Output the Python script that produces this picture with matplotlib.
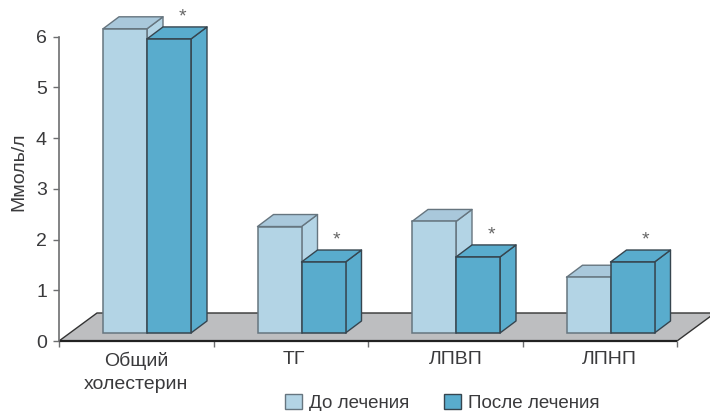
"""Липиды крови до и после лечения: псевдообъёмные столбцы на серой плоскости."""
import matplotlib
matplotlib.use("Agg")
import matplotlib.pyplot as plt  # noqa: E402
from matplotlib.patches import Patch, Polygon  # noqa: E402

plt.rcParams["font.family"] = ["Liberation Sans", "DejaVu Sans"]

CATEGORIES = ["Общий\nхолестерин", "ТГ", "ЛПВП", "ЛПНП"]
BEFORE = [6.0, 2.1, 2.2, 1.1]
AFTER = [5.8, 1.4, 1.5, 1.4]
SERIES_NAMES = ["До лечения", "После лечения"]
Y_TICKS = [0, 1, 2, 3, 4, 5, 6]

LIGHT = "#b3d4e5"
LIGHT_TOP = "#a9c8db"
LIGHT_EDGE = "#66757f"
DARK = "#59accd"
DARK_EDGE = "#36454f"
FLOOR = "#bdbec0"
INK = "#3a3a3c"
AXIS = "#6d6e70"

# пиксели на единицу осей: всё «объёмное» задано в пикселях холста
W, H = 710, 411
PX_X = 154.5
PX_Y = 50.7
LEFT, ZERO = 59, 341

BAR_W = 44 / PX_X
BAR_OFF = 44 / PX_X
LIFT = 8 / PX_Y
DX, DY = 16 / PX_X, 12 / PX_Y
FLOOR_DX, FLOOR_DY = 38 / PX_X, 28 / PX_Y
LABEL_SHIFT = [0, 3.5, 11, 10]

fig = plt.figure(figsize=(W / 100, H / 100), dpi=100)
ax = fig.add_axes([LEFT / W, 1 - ZERO / H, 4 * PX_X / W, 6 * PX_Y / H])
ax.set_xlim(0, 4)
ax.set_ylim(0, 6)

ax.add_patch(Polygon([(0, 0), (4, 0), (4 + FLOOR_DX, FLOOR_DY), (FLOOR_DX, FLOOR_DY)],
                     closed=True, facecolor=FLOOR, edgecolor="#333333", lw=1.0,
                     clip_on=False, zorder=1))
ax.plot([0, 4], [0, 0], color="#222222", lw=1.6, clip_on=False, zorder=2,
        solid_capstyle="butt")


def bar3d(x, value, face, top, edge, zorder):
    y = LIFT + value
    ax.add_patch(Polygon([(x + BAR_W, LIFT), (x + BAR_W + DX, LIFT + DY),
                          (x + BAR_W + DX, y + DY), (x + BAR_W, y)],
                         closed=True, facecolor=face, edgecolor=edge, lw=1.0,
                         clip_on=False, zorder=zorder, joinstyle="round"))
    ax.add_patch(Polygon([(x, y), (x + DX, y + DY), (x + BAR_W + DX, y + DY), (x + BAR_W, y)],
                         closed=True, facecolor=top, edgecolor=edge, lw=1.0,
                         clip_on=False, zorder=zorder, joinstyle="round"))
    ax.bar(x, value, BAR_W, bottom=LIFT, align="edge", color=face, edgecolor=edge,
           lw=1.1, clip_on=False, zorder=zorder + 0.1)


for i, (before, after) in enumerate(zip(BEFORE, AFTER)):
    x1 = i + BAR_OFF
    x2 = x1 + BAR_W
    bar3d(x1, before, LIGHT, LIGHT_TOP, LIGHT_EDGE, 3 + i)
    bar3d(x2, after, DARK, DARK, DARK_EDGE, 3.3 + i)
    ax.annotate("*", (x2 + BAR_W, LIFT + after), xytext=(-9, 22), textcoords="offset pixels",
                ha="center", va="center", fontsize=14, color="#666666",
                annotation_clip=False, zorder=10)

ax.set_xticks(range(5))
ax.set_xticklabels([])
ax.tick_params(axis="x", which="major", length=4.3, width=1.0, color=AXIS)
ax.set_xticks([i + 0.5 + s / PX_X for i, s in enumerate(LABEL_SHIFT)], CATEGORIES, minor=True)
ax.tick_params(axis="x", which="minor", length=0, pad=7.5, labelsize=14, labelcolor=INK)
for lab in ax.get_xticklabels(minor=True):
    lab.set_linespacing(1.45)

ax.set_yticks(Y_TICKS)
ax.tick_params(axis="y", length=4.3, width=1.0, color=AXIS, pad=4.4, labelsize=14, labelcolor=INK)
ax.set_ylabel("Ммоль/л", fontsize=14, color=INK)
ax.yaxis.set_label_coords(-32 / (4 * PX_X), 0.556)

for sp in ("top", "right", "bottom"):
    ax.spines[sp].set_visible(False)
ax.spines["left"].set_color(AXIS)
ax.spines["left"].set_linewidth(1.2)

handles = [Patch(facecolor=LIGHT, edgecolor=LIGHT_EDGE, lw=1.0),
           Patch(facecolor=DARK, edgecolor=DARK_EDGE, lw=1.0)]
fig.legend(handles, SERIES_NAMES, ncol=2, frameon=False, fontsize=13.5,
           labelcolor=INK, handlelength=0.91, handleheight=0.91, handletextpad=0.37,
           columnspacing=1.85, borderpad=0, borderaxespad=0,
           loc="lower left", bbox_to_anchor=(285 / W, -1 / H))

fig.savefig("out.png", dpi=100, facecolor="white")
